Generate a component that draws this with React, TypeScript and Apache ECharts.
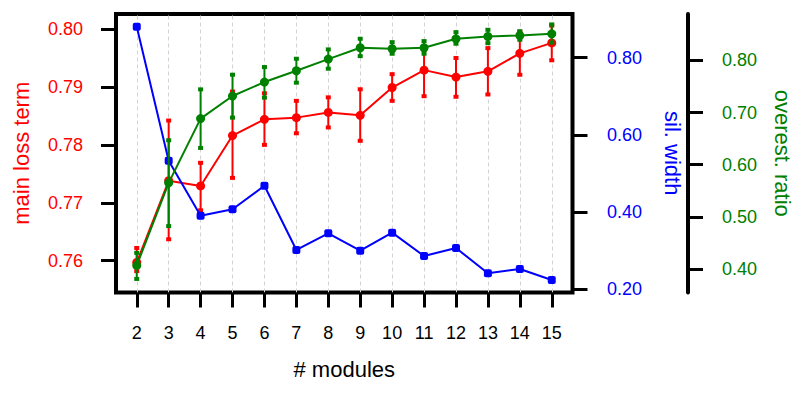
import React, { useEffect, useRef } from "react";
import * as echarts from "echarts";

const modules = [2, 3, 4, 5, 6, 7, 8, 9, 10, 11, 12, 13, 14, 15];

const lossMean = [0.7597, 0.7738, 0.7729, 0.7816, 0.7844, 0.7847, 0.7856, 0.7851, 0.7899, 0.7929, 0.7917, 0.7927, 0.7958, 0.7976];
const lossLow = [0.7582, 0.7637, 0.7687, 0.7743, 0.78, 0.782, 0.783, 0.7807, 0.7876, 0.7884, 0.7883, 0.7887, 0.7921, 0.7946];
const lossHigh = [0.7622, 0.7842, 0.7769, 0.7892, 0.7889, 0.7876, 0.7882, 0.7896, 0.7922, 0.7964, 0.795, 0.7967, 0.7995, 0.8006];

const silWidth = [0.8804, 0.5328, 0.3901, 0.4067, 0.468, 0.3012, 0.3445, 0.2994, 0.3461, 0.2856, 0.3064, 0.2407, 0.2519, 0.2233];

const overMean = [0.407, 0.5652, 0.6884, 0.7317, 0.7585, 0.7802, 0.8025, 0.8243, 0.8224, 0.8243, 0.8415, 0.8459, 0.8478, 0.851];
const overLow = [0.381, 0.4823, 0.6322, 0.6903, 0.7286, 0.7573, 0.7841, 0.8082, 0.8128, 0.8128, 0.832, 0.8331, 0.8396, 0.834];
const overHigh = [0.431, 0.6469, 0.7445, 0.7726, 0.7873, 0.8032, 0.8211, 0.8415, 0.835, 0.837, 0.8542, 0.8587, 0.856, 0.869];

const lossTicks = [0.76, 0.77, 0.78, 0.79, 0.8];
const silTicks = [0.2, 0.4, 0.6, 0.8];
const overTicks = [0.4, 0.5, 0.6, 0.7, 0.8];

const FONT = "'Liberation Sans', Arial, Helvetica, sans-serif";
const RED = "#ff0000";
const BLUE = "#0000ff";
const GREEN = "#008000";

function errorSeries(color: string, yIdx: number, low: number[], high: number[], z: number) {
  return {
    type: "custom",
    yAxisIndex: yIdx,
    z,
    silent: true,
    encode: { x: 0, y: [1, 2] },
    data: modules.map((m, i) => [m, low[i], high[i]]),
    renderItem: (params: any, api: any) => {
      const x = api.value(0);
      const pLo = api.coord([x, api.value(1)]);
      const pHi = api.coord([x, api.value(2)]);
      const cw = 5;
      const ch = 4;
      return {
        type: "group",
        children: [
          {
            type: "line",
            shape: { x1: pLo[0], y1: pLo[1], x2: pHi[0], y2: pHi[1] },
            style: { stroke: color, lineWidth: 2 },
          },
          {
            type: "rect",
            shape: { x: pLo[0] - cw / 2, y: pLo[1] - ch / 2, width: cw, height: ch },
            style: { fill: color },
          },
          {
            type: "rect",
            shape: { x: pHi[0] - cw / 2, y: pHi[1] - ch / 2, width: cw, height: ch },
            style: { fill: color },
          },
        ],
      };
    },
  };
}

function yAxisBase(min: number, max: number, ticks: number[], color: string, margin: number) {
  return {
    type: "value",
    min,
    max,
    axisLine: { show: false, lineStyle: { color: "#000", width: 4 } },
    axisTick: { show: true, length: 15, customValues: ticks, lineStyle: { color: "#000", width: 3 } },
    axisLabel: {
      customValues: ticks,
      color,
      fontSize: 18,
      fontFamily: FONT,
      margin,
      formatter: (v: number) => v.toFixed(2),
    },
    splitLine: { show: false },
    nameLocation: "middle",
    nameTextStyle: { color, fontSize: 22, lineHeight: 22, fontFamily: FONT },
  };
}

export default function App() {
  const ref = useRef<HTMLDivElement>(null);
  useEffect(() => {
    if (!ref.current) return;
    const chart = echarts.init(ref.current, undefined, { renderer: "svg" });
    chart.setOption({
      animation: false,
      backgroundColor: "#fff",
      grid: {
        left: 116,
        right: 220.5,
        top: 14,
        bottom: 104.5,
        show: true,
        borderColor: "#000",
        borderWidth: 4,
        backgroundColor: "transparent",
        containLabel: false,
        outerBoundsMode: "none",
      },
      xAxis: {
        type: "value",
        min: 1.35,
        max: 15.65,
        name: "# modules",
        nameLocation: "middle",
        nameGap: 66,
        nameTextStyle: { color: "#000", fontSize: 22, fontFamily: FONT },
        axisLine: { show: false },
        axisTick: { show: true, length: 15, customValues: modules, lineStyle: { color: "#000", width: 3 } },
        axisLabel: {
          customValues: modules,
          color: "#000",
          fontSize: 18,
          fontFamily: FONT,
          margin: 31,
        },
        splitLine: { show: false },
      },
      yAxis: [
        {
          ...yAxisBase(0.75451, 0.80259, lossTicks, RED, 33),
          position: "left",
          name: "main loss term",
          nameGap: 84,
        },
        {
          ...yAxisBase(0.1909, 0.9134, silTicks, BLUE, 34.5),
          position: "right",
          name: "sil. width",
          nameGap: 89,
          nameRotate: -90,
        },
        {
          ...yAxisBase(0.355, 0.889, overTicks, GREEN, 34),
          position: "right",
          offset: 115.5,
          name: "overest. ratio",
          nameGap: 83,
          nameRotate: -90,
          axisLine: { show: true, lineStyle: { color: "#000", width: 4 } },
        },
      ],
      series: [
        {
          type: "line",
          data: [],
          z: 0,
          silent: true,
          markLine: {
            z: 0,
            silent: true,
            symbol: "none",
            label: { show: false },
            lineStyle: { type: [4, 3], color: "#d3d3d3", width: 1 },
            data: modules.map((m) => ({ xAxis: m })),
          },
        },
        errorSeries(RED, 0, lossLow, lossHigh, 2),
        {
          type: "line",
          yAxisIndex: 0,
          z: 3,
          data: modules.map((m, i) => [m, lossMean[i]]),
          symbol: "circle",
          symbolSize: 9,
          lineStyle: { color: RED, width: 2 },
          itemStyle: { color: RED, borderWidth: 0 },
        },
        {
          type: "line",
          yAxisIndex: 1,
          z: 4,
          data: modules.map((m, i) => [m, silWidth[i]]),
          symbol: "roundRect",
          symbolSize: 8,
          lineStyle: { color: BLUE, width: 2 },
          itemStyle: { color: BLUE, borderWidth: 0 },
        },
        errorSeries(GREEN, 2, overLow, overHigh, 5),
        {
          type: "line",
          yAxisIndex: 2,
          z: 6,
          data: modules.map((m, i) => [m, overMean[i]]),
          symbol: "circle",
          symbolSize: 9,
          lineStyle: { color: GREEN, width: 2 },
          itemStyle: { color: GREEN, borderWidth: 0 },
        },
      ],
    });
    return () => chart.dispose();
  }, []);
  return (
    <div
      ref={ref}
      style={{ position: "fixed", left: 0, top: 0, width: 793, height: 397, background: "#fff" }}
    />
  );
}
